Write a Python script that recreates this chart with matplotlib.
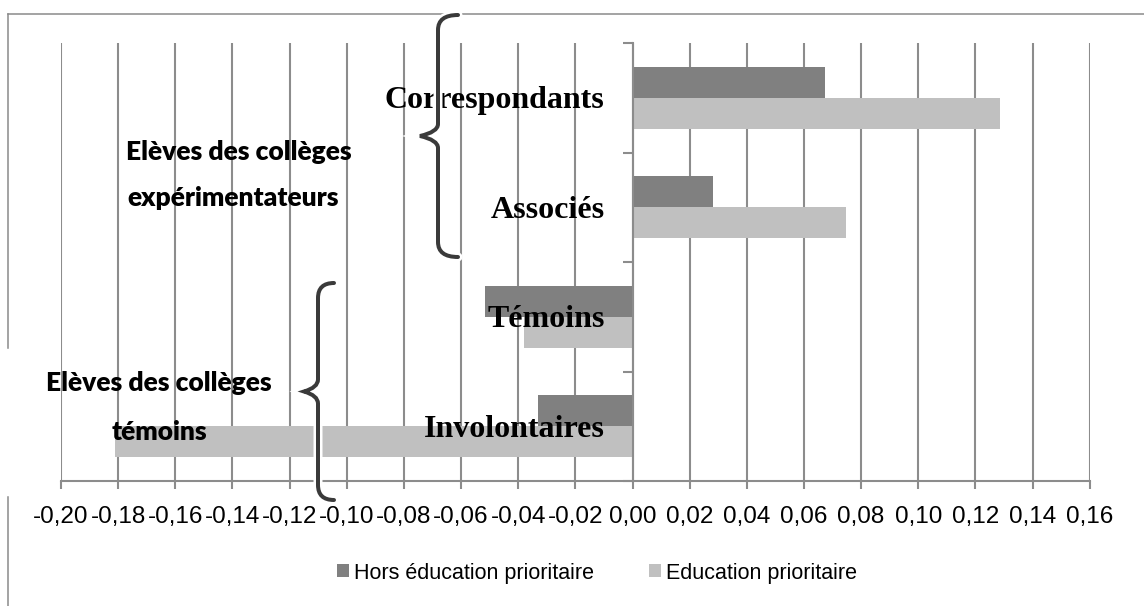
import matplotlib
matplotlib.use("Agg")
import matplotlib.pyplot as plt
import numpy as np
from matplotlib.lines import Line2D
from matplotlib.path import Path
from matplotlib.patches import PathPatch

# data
categories = ['Correspondants', 'Associés', 'Témoins', 'Involontaires']
hors_ep = [0.0675, 0.028, -0.0516, -0.0332]
ep = [0.1286, 0.0748, -0.0378, -0.181]
series_names = ['Hors éducation prioritaire', 'Education prioritaire']
xticks = np.round(np.arange(-0.20, 0.161, 0.02), 2) + 0.0

DARK = '#808080'
LIGHT = '#c0c0c0'
GRID = '#8c8c8c'
W, H = 1144, 606

fig = plt.figure(figsize=(W / 100, H / 100), dpi=100)
ax = fig.add_axes([61 / W, 1 - 481 / H, (1089.7 - 61) / W, (481 - 43) / H])

y = np.arange(len(categories))
h = 0.283
ax.barh(y - h / 2, hors_ep, height=h, color=DARK, label=series_names[0], zorder=2)
ax.barh(y + h / 2, ep, height=h, color=LIGHT, label=series_names[1], zorder=2)

ax.set_xlim(-0.20, 0.16)
ax.set_ylim(len(categories) - 0.5, -0.5)
ax.set_xticks(xticks)
labels = []
for t in xticks:
    s = f"{t:.2f}".replace('.', ',')
    labels.append('0,00' if s == '-0,00' else s)
ax.set_xticklabels(labels, family=['Liberation Sans', 'DejaVu Sans'], fontsize=17.5)
ax.xaxis.grid(True, color=GRID, linewidth=1.5, zorder=0)
ax.set_axisbelow(True)
ax.tick_params(axis='x', length=6, width=1.5, color=GRID, pad=12)

# vertical axis drawn at x = 0 with ticks at category boundaries
ax.spines['left'].set_position(('data', 0))
ax.spines['left'].set_color(GRID)
ax.spines['left'].set_linewidth(1.5)
ax.spines['left'].set_zorder(3)
ax.set_yticks(np.arange(-0.5, len(categories), 1.0))
ax.set_yticklabels([])
ax.tick_params(axis='y', length=7, width=1.5, color=GRID)
ax.spines['bottom'].set_color(GRID)
ax.spines['bottom'].set_linewidth(1.5)
ax.spines['top'].set_visible(False)
ax.spines['right'].set_visible(False)

# category names inside the plot, right aligned near zero
for i, name in enumerate(categories):
    ax.annotate(name, xy=(-0.0098, i), xytext=(0, -10.5), textcoords='offset pixels',
                ha='right', va='baseline', fontsize=23, fontweight='bold',
                family=['Liberation Serif', 'DejaVu Serif'], zorder=5)

# group labels and braces
grp_font = dict(fontsize=19, fontweight='heavy', ha='center', va='center',
                family=['Lato', 'Liberation Sans', 'DejaVu Sans'])
fig.text(239 / W, 1 - 152 / H, 'Elèves des collèges', **grp_font)
fig.text(233 / W, 1 - 198 / H, 'expérimentateurs', **grp_font)
fig.text(159 / W, 1 - 383 / H, 'Elèves des collèges', **grp_font)
fig.text(159 / W, 1 - 432 / H, 'témoins', **grp_font)


def brace(x_spine, y_top, y_bot, x_tip, x_hook):
    ym = (y_top + y_bot) / 2
    pts = [(x_hook, y_top), (x_spine, y_top), (x_spine, y_top + 15),
           (x_spine, ym - 12), (x_spine, ym - 4), (x_tip, ym),
           (x_spine, ym + 4), (x_spine, ym + 12),
           (x_spine, y_bot - 15), (x_spine, y_bot), (x_hook, y_bot)]
    codes = [Path.MOVETO, Path.CURVE3, Path.CURVE3, Path.LINETO, Path.CURVE3, Path.CURVE3,
             Path.CURVE3, Path.CURVE3, Path.LINETO, Path.CURVE3, Path.CURVE3]
    verts = [(px / W, 1 - py / H) for px, py in pts]
    for lw, col in ((9, 'white'), (4, '#3a3a3a')):
        fig.patches.append(PathPatch(Path(verts, codes), fill=False, lw=lw * 0.72,
                                     edgecolor=col, transform=fig.transFigure,
                                     capstyle='round', zorder=6))


brace(438, 15, 257, 420, 458)
brace(318, 283, 500, 304, 334)

# outer chart frame
frame = dict(color='#8a8a8a', lw=1.1, transform=fig.transFigure)
fig.lines.append(Line2D([8 / W, 1], [1 - 13.5 / H, 1 - 13.5 / H], **frame))
fig.lines.append(Line2D([8 / W, 8 / W], [1 - 13.5 / H, 1 - 348 / H], **frame))
fig.lines.append(Line2D([8 / W, 8 / W], [1 - 497 / H, 0], **frame))

leg = fig.legend(loc='center', bbox_to_anchor=(597 / W, 1 - 573 / H), ncol=2,
                 frameon=False, prop={'family': ['Liberation Sans', 'DejaVu Sans'], 'size': 15.5},
                 handlelength=0.55, handleheight=0.55, handletextpad=0.2, columnspacing=2.6)

fig.savefig('out.png', dpi=100)
